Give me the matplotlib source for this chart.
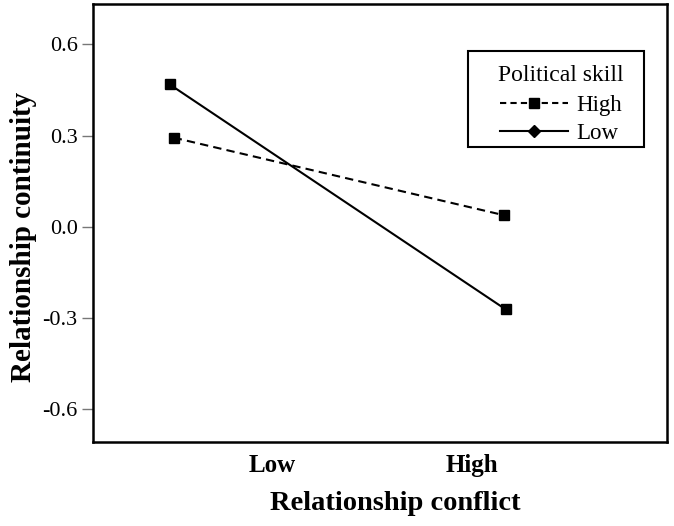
import matplotlib
matplotlib.use("Agg")
import matplotlib.pyplot as plt
from matplotlib.lines import Line2D
from matplotlib.patches import Rectangle

plt.rcParams['font.family'] = ['Liberation Serif', 'DejaVu Serif']

categories = ["Low", "High"]
cat_pos = [0, 1]
high_x = [-0.49, 1.16]
high_y = [0.293, 0.038]
low_x = [-0.51, 1.17]
low_y = [0.468, -0.272]
yticks = [-0.6, -0.3, 0.0, 0.3, 0.6]

fig = plt.figure(figsize=(6.74, 5.26), dpi=100)
ax = fig.add_axes([0.138, 0.1606, 0.8516, 0.8318])

ax.plot(high_x, high_y, color='black', linestyle=(0, (4, 2.5)), linewidth=1.5,
        marker='s', markersize=7, zorder=3)
ax.plot(low_x, low_y, color='black', linestyle='-', linewidth=1.5,
        marker='s', markersize=7, zorder=3)

ax.set_xlim(-0.8935, 1.9765)
ax.set_ylim(-0.7066, 0.7326)
ax.set_yticks(yticks)
ax.set_yticklabels([f"{v:.1f}" for v in yticks])
ax.set_xticks(cat_pos)
ax.set_xticklabels(categories, fontweight='bold', fontsize=18)
ax.tick_params(axis='x', length=0, pad=9)
ax.tick_params(axis='y', length=8, width=1, color='#777777', labelsize=16, pad=3)

for s in ax.spines.values():
    s.set_linewidth(1.8)
    s.set_color('black')

ax.set_xlabel("Relationship conflict", fontweight='bold', fontsize=20.5)
ax.set_ylabel("Relationship continuity", fontweight='bold', fontsize=21)
ax.xaxis.set_label_coords(0.526, -0.114)
ax.yaxis.set_label_coords(-0.098, 0.467)

handles = [
    Line2D([0], [0], color='black', linestyle=(0, (3, 2)), linewidth=1.5, marker='s', markersize=7),
    Line2D([0], [0], color='black', linestyle='-', linewidth=1.5, marker='D', markersize=6),
]
leg = ax.legend(handles, ["High", "Low"], title="Political skill", loc='upper left',
                bbox_to_anchor=(0.7056, 0.860), frameon=False,
                fontsize=16.5, title_fontsize=17,
                handlelength=3.0, handletextpad=0.35, borderpad=0,
                borderaxespad=0, labelspacing=0.3)
leg._legend_box.sep = 6
ax.add_patch(Rectangle((0.6533, 0.6731), 0.9599 - 0.6533, 0.8926 - 0.6731,
                       transform=ax.transAxes, fill=False, edgecolor='black',
                       linewidth=1.5, zorder=4))

fig.savefig("out.png", dpi=100)
